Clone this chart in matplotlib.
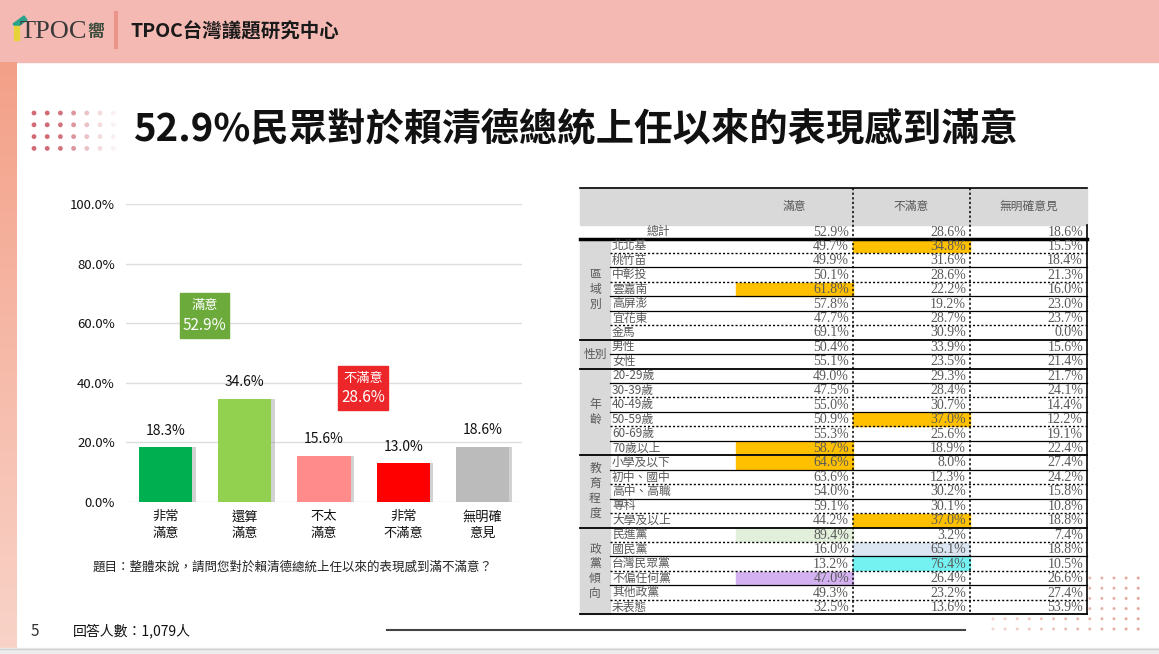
import matplotlib
matplotlib.use("Agg")
import matplotlib.pyplot as plt
import numpy as np
from matplotlib.patches import Rectangle, Circle, Polygon

plt.rcParams["font.family"] = ["Noto Sans CJK TC", "DejaVu Sans"]

W, H = 1159, 654

# ---- bar chart data ----
bar_labels = ["非常\n滿意", "還算\n滿意", "不太\n滿意", "非常\n不滿意", "無明確\n意見"]
bar_values = [18.3, 34.6, 15.6, 13.0, 18.6]
bar_colors = ["#00B050", "#92D050", "#FF8B8B", "#FF0000", "#BBBBBB"]
sat_idx = [0, 1]
unsat_idx = [2, 3]

# ---- table data ----
table_cols = ["滿意", "不滿意", "無明確意見"]
total_values = [52.9, 28.6, 18.6]

region_labels = ["北北基", "桃竹苗", "中彰投", "雲嘉南", "高屏澎", "宜花東", "金馬"]
region_values = [[49.7, 34.8, 15.5], [49.9, 31.6, 18.4], [50.1, 28.6, 21.3], [61.8, 22.2, 16.0],
                 [57.8, 19.2, 23.0], [47.7, 28.7, 23.7], [69.1, 30.9, 0.0]]
gender_labels = ["男性", "女性"]
gender_values = [[50.4, 33.9, 15.6], [55.1, 23.5, 21.4]]
age_labels = ["20-29歲", "30-39歲", "40-49歲", "50-59歲", "60-69歲", "70歲以上"]
age_values = [[49.0, 29.3, 21.7], [47.5, 28.4, 24.1], [55.0, 30.7, 14.4],
              [50.9, 37.0, 12.2], [55.3, 25.6, 19.1], [58.7, 18.9, 22.4]]
edu_labels = ["小學及以下", "初中、國中", "高中、高職", "專科", "大學及以上"]
edu_values = [[64.6, 8.0, 27.4], [63.6, 12.3, 24.2], [54.0, 30.2, 15.8],
              [59.1, 30.1, 10.8], [44.2, 37.0, 18.8]]
party_labels = ["民進黨", "國民黨", "台灣民眾黨", "不偏任何黨", "其他政黨", "未表態"]
party_values = [[89.4, 3.2, 7.4], [16.0, 65.1, 18.8], [13.2, 76.4, 10.5],
                [47.0, 26.4, 26.6], [49.3, 23.2, 27.4], [32.5, 13.6, 53.9]]

group_names = ["區域別", "性別", "年齡", "教育程度", "政黨傾向"]
group_labels = [region_labels, gender_labels, age_labels, edu_labels, party_labels]
group_values = [region_values, gender_values, age_values, edu_values, party_values]
# bottom border style of rows inside each group (last row = group border)
group_borders = [["dot", "solid", "dot", "solid", "solid", "dot"],
                 ["solid"],
                 ["solid", "dot", "solid", "dot", "solid"],
                 ["solid", "dot", "solid", "dot"],
                 ["dot", "solid", "dot", "solid", "dot"]]

highlights = [("北北基", 1, "#FFC000"), ("雲嘉南", 0, "#FFC000"), ("50-59歲", 1, "#FFC000"),
              ("70歲以上", 0, "#FFC000"), ("小學及以下", 0, "#FFC000"), ("大學及以上", 1, "#FFC000"),
              ("民進黨", 0, "#E2EFDA"), ("國民黨", 1, "#DCE6F2"), ("台灣民眾黨", 1, "#74F2F2"),
              ("不偏任何黨", 0, "#D4B2F2")]

fig = plt.figure(figsize=(W / 100, H / 100), dpi=100)
ax0 = fig.add_axes([0, 0, 1, 1])
ax0.set_xlim(0, W)
ax0.set_ylim(H, 0)
ax0.axis("off")

# ---- slide background ----
ax0.add_patch(Rectangle((0, 0), W, 62, color="#F5B9B3", zorder=1))
grad = np.linspace(0, 1, 200)[:, None]
c_top = np.array([0xF3, 0xA0, 0x88]) / 255
c_bot = np.array([0xF9, 0xD3, 0xC8]) / 255
ax0.imshow(c_top + grad[..., None] * (c_bot - c_top), extent=(0, 17, 648, 62),
           aspect="auto", zorder=1)
ax0.add_patch(Rectangle((0, 648), W, 6, color="#EDEDED", zorder=1))
ax0.plot([0, W], [648.5, 648.5], color="#CFCFCF", lw=1, zorder=2)
ax0.set_xlim(0, W)
ax0.set_ylim(H, 0)

# logo + header text
ax0.add_patch(Polygon([[13, 24], [24, 16], [27, 20], [17, 27]], color="#2BA38B", zorder=3))
ax0.add_patch(Rectangle((14, 26), 5, 14, color="#E6D23A", zorder=3))
ax0.text(20, 32, "TPOC", fontsize=19, family="Liberation Serif", color="#3A3A3A",
         va="center", ha="left", zorder=3)
ax0.text(87, 32, "嚮", fontsize=12, fontweight="bold", color="#3A4A3A", va="center",
         ha="left", zorder=3)
ax0.plot([116, 116], [13, 47], color="#E9958A", lw=3, zorder=3)
ax0.text(130, 32, "TPOC台灣議題研究中心", fontsize=14, fontweight="bold", color="#1A1A1A",
         va="center", ha="left", zorder=3)

# top-left dots
dot_alpha = [0.85, 0.85, 0.8, 0.6, 0.35, 0.2, 0.08]
for i, a in enumerate(dot_alpha):
    for j in range(4):
        ax0.add_patch(Circle((34 + i * 13.2, 113 + j * 11.8), 2.4, color="#C9505C", alpha=a,
                             lw=0, zorder=3))

ax0.text(133, 130, "52.9%民眾對於賴清德總統上任以來的表現感到滿意", fontsize=27.6,
         fontweight="bold", color="#111111", va="center", ha="left", zorder=3)

# bottom-right dots
for i in range(13):
    for j in range(6):
        ax0.add_patch(Circle((993 + i * 12.1, 578 + j * 10.2), 1.5, color="#D98C78",
                             alpha=0.35 + 0.4 * i / 12, lw=0, zorder=2))

# bottom texts
ax0.text(35, 631, "5", fontsize=11, color="#333333", va="center", ha="center", zorder=3)
ax0.text(73, 631, "回答人數：1,079人", fontsize=10, color="#111111", va="center", ha="left",
         zorder=3)
ax0.plot([387, 965], [630, 630], color="#444444", lw=1.5, zorder=3)
ax0.text(93, 567, "題目：整體來說，請問您對於賴清德總統上任以來的表現感到滿不滿意？",
         fontsize=9, color="#222222", va="center", ha="left", zorder=3)

# ---- bar chart ----
axb = fig.add_axes([126 / W, 1 - 502 / H, 396 / W, 298 / H])
axb.patch.set_alpha(0)
x = np.arange(len(bar_values))
axb.bar(x + 0.045, bar_values, width=0.67, color="#808080", alpha=0.35, zorder=2)
axb.bar(x, bar_values, width=0.67, color=bar_colors, zorder=3)
for xi, v in zip(x, bar_values):
    axb.annotate(f"{v:.1f}%", (xi, v), xytext=(0, 7), textcoords="offset points",
                 ha="center", va="bottom", fontsize=10, color="#111111")
axb.set_xlim(-0.5, 4.5)
axb.set_ylim(0, 100)
yt = np.arange(0, 101, 20)
axb.set_yticks(yt, [f"{v:.1f}%" for v in yt], fontsize=9.5, color="#111111")
axb.set_xticks(x, bar_labels, fontsize=9.5, color="#111111", linespacing=1.35)
axb.tick_params(length=0)
axb.tick_params(axis="y", pad=8)
axb.tick_params(axis="x", pad=6)
axb.yaxis.grid(True, color="#DDDDDD", lw=1)
axb.set_axisbelow(True)
for s in axb.spines.values():
    s.set_visible(False)

sat_total = sum(bar_values[i] for i in sat_idx)
unsat_total = sum(bar_values[i] for i in unsat_idx)
axb.add_patch(Rectangle((0.18, 55.0), 0.62, 15.1, color="#6DAA3C", zorder=4))
axb.text(0.49, 65.8, "滿意", color="white", fontsize=9.5, ha="center", va="center", zorder=5)
axb.text(0.49, 59.2, f"{sat_total:.1f}%", color="white", fontsize=11, ha="center",
         va="center", zorder=5)
axb.add_patch(Rectangle((2.18, 30.9), 0.63, 14.7, color="#EC2629", zorder=4))
axb.text(2.495, 41.6, "不滿意", color="white", fontsize=9.5, ha="center", va="center",
         zorder=5)
axb.text(2.495, 34.9, f"{unsat_total:.1f}%", color="white", fontsize=11, ha="center",
         va="center", zorder=5)

# ---- table ----
col_x = [580, 610, 736, 853, 970, 1087]
top, head_bot, total_bot = 188, 225, 238.5
rh = 14.45
txt_c = "#595959"
nrows = sum(len(l) for l in group_labels)
tab_bot = total_bot + nrows * rh
Z = 5

ax0.add_patch(Rectangle((580, top), 1087 - 580, tab_bot - top, color="white", zorder=Z))
ax0.add_patch(Rectangle((580, top), 1087 - 580, head_bot - top, color="#D9D9D9", zorder=Z))
ax0.add_patch(Rectangle((580, total_bot), 30, tab_bot - total_bot, color="#D9D9D9", zorder=Z))
for k, name in enumerate(table_cols):
    ax0.text((col_x[k + 2] + col_x[k + 3]) / 2, (top + head_bot) / 2, name, fontsize=8.5,
             color=txt_c, ha="center", va="center", zorder=Z + 3)

ymid = (head_bot + total_bot) / 2
ax0.text(658, ymid, "總計", fontsize=8.5, color=txt_c, ha="center", va="center", zorder=Z + 3)
for k, v in enumerate(total_values):
    ax0.text(col_x[k + 3] - 4, ymid + 0.5, f"{v:.1f}%", fontsize=10, family="Liberation Serif",
             color=txt_c, ha="right", va="center", zorder=Z + 3)

hl = {(lab, c): color for lab, c, color in highlights}
row = 0
for g, (gname, labels, values, borders) in enumerate(zip(group_names, group_labels,
                                                         group_values, group_borders)):
    g_top = total_bot + row * rh
    g_bot = g_top + len(labels) * rh
    gc = (g_top + g_bot) / 2
    if len(labels) <= 2:
        ax0.text(595, gc, gname, fontsize=8.5, color=txt_c, ha="center", va="center",
                 zorder=Z + 3)
    else:
        n = len(gname)
        for ci, ch in enumerate(gname):
            ax0.text(595, gc + (ci - (n - 1) / 2) * 15, ch, fontsize=8.5, color=txt_c,
                     ha="center", va="center", zorder=Z + 3)
    for r, (lab, vals) in enumerate(zip(labels, values)):
        y0 = g_top + r * rh
        yc = y0 + rh / 2
        for k, v in enumerate(vals):
            if (lab, k) in hl:
                ax0.add_patch(Rectangle((col_x[k + 2], y0 + 0.8), col_x[k + 3] - col_x[k + 2],
                                        rh - 1.6, color=hl[(lab, k)], zorder=Z + 1))
            ax0.text(col_x[k + 3] - 4, yc + 0.5, f"{v:.1f}%", fontsize=10,
                     family="Liberation Serif", color=txt_c, ha="right", va="center",
                     zorder=Z + 3)
        ax0.text(612, yc, lab, fontsize=8.5, color=txt_c, ha="left", va="center", zorder=Z + 3)
        if r < len(borders):
            yb = y0 + rh
            if borders[r] == "dot":
                ax0.plot([610, 1087], [yb, yb], color="black", lw=1, ls=(0, (1.5, 1.5)),
                         zorder=Z + 2)
            else:
                ax0.plot([610, 1087], [yb, yb], color="black", lw=0.9, zorder=Z + 2)
    ax0.plot([580, 1087], [g_bot, g_bot], color="black", lw=1.3, zorder=Z + 2)
    row += len(labels)

ax0.plot([580, 1087], [top, top], color="black", lw=1.2, zorder=Z + 2)
ax0.plot([580, 1087], [total_bot, total_bot], color="black", lw=2.5, zorder=Z + 2)
for xv in (853, 970):
    ax0.plot([xv, xv], [top, tab_bot], color="black", lw=1.1, ls=(0, (1.5, 1.5)), zorder=Z + 2)
ax0.plot([1087, 1087], [head_bot, tab_bot], color="black", lw=1.2, zorder=Z + 2)

fig.savefig("out.png", dpi=100)
